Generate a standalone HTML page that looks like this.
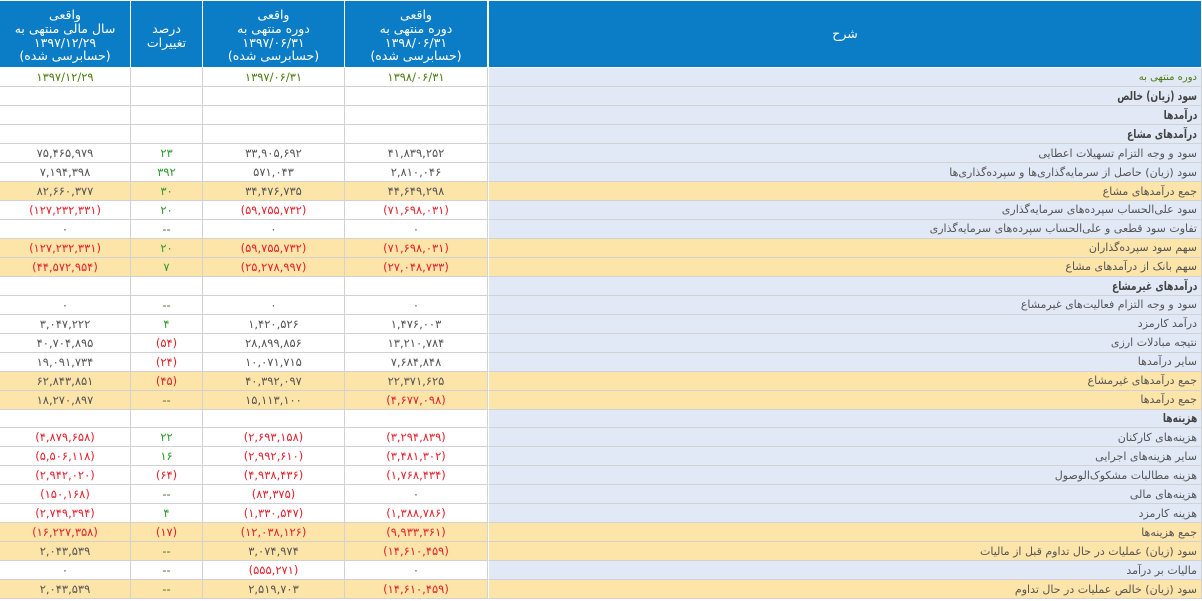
<!DOCTYPE html>
<html lang="fa">
<head>
<meta charset="utf-8">
<style>
html,body{margin:0;padding:0;background:#fff;}
body{width:1202px;height:601px;overflow:hidden;font-family:"DejaVu Sans","Liberation Sans",sans-serif;}
.t{display:grid;grid-template-columns:131px 72px 142px 143px 714px;grid-template-rows:68px 19.3px repeat(27,18.96px);}
.c{box-sizing:border-box;border-right:1px solid #d2d2d2;border-bottom:1px solid #d2d2d2;font-size:11.5px;color:#555;display:flex;align-items:center;justify-content:center;white-space:nowrap;overflow:hidden;background:#fff;}
.s{background:#e2e9f6;justify-content:flex-start;direction:rtl;padding-right:4px;border-left:1px solid #fff;font-size:11px;}
.y{background:#fde4a8;}
.h{background:#0b7dc6;color:#fff;border-right:1px solid #fff;border-bottom:1px solid #fff;border-top:1px solid #fff;text-align:center;font-size:12.5px;line-height:13.7px;direction:rtl;padding-top:3px;}
.h.s{justify-content:center;padding-right:0;background:#0b7dc6;font-size:12.5px;padding-top:0;}
.r{color:#e2222d;}
.g{color:#2f9a2f;}
.d{color:#4b7d12;}
.s.d{font-size:10px;}
.dd{color:#4a6a2a;}
.b span{display:inline-block;font-weight:bold;color:#444;font-size:12px;transform:scaleX(0.76);transform-origin:right center;}
</style>
</head>
<body>
<div class="t">
<!-- header -->
<div class="c h">واقعی<br>سال مالی منتهی به<br>۱۳۹۷/۱۲/۲۹<br>(حسابرسی شده)</div>
<div class="c h">درصد<br>تغییرات</div>
<div class="c h">واقعی<br>دوره منتهی به<br>۱۳۹۷/۰۶/۳۱<br>(حسابرسی شده)</div>
<div class="c h">واقعی<br>دوره منتهی به<br>۱۳۹۸/۰۶/۳۱<br>(حسابرسی شده)</div>
<div class="c h s">شرح</div>

<!-- 1 -->
<div class="c d">۱۳۹۷/۱۲/۲۹</div><div class="c"></div><div class="c d">۱۳۹۷/۰۶/۳۱</div><div class="c d">۱۳۹۸/۰۶/۳۱</div><div class="c s d">دوره منتهی به</div>
<!-- 2 -->
<div class="c"></div><div class="c"></div><div class="c"></div><div class="c"></div><div class="c s b"><span>سود (زیان) خالص</span></div>
<!-- 3 -->
<div class="c"></div><div class="c"></div><div class="c"></div><div class="c"></div><div class="c s b"><span>درآمدها</span></div>
<!-- 4 -->
<div class="c"></div><div class="c"></div><div class="c"></div><div class="c"></div><div class="c s b"><span>درآمدهای مشاع</span></div>
<!-- 5 -->
<div class="c">۷۵,۴۶۵,۹۷۹</div><div class="c g">۲۳</div><div class="c">۳۳,۹۰۵,۶۹۲</div><div class="c">۴۱,۸۳۹,۲۵۲</div><div class="c s">سود و وجه التزام تسهیلات اعطایی</div>
<!-- 6 -->
<div class="c">۷,۱۹۴,۳۹۸</div><div class="c g">۳۹۲</div><div class="c">۵۷۱,۰۴۳</div><div class="c">۲,۸۱۰,۰۴۶</div><div class="c s">سود (زیان) حاصل از سرمایه‌گذاری‌ها و سپرده‌گذاری‌ها</div>
<!-- 7 -->
<div class="c y">۸۲,۶۶۰,۳۷۷</div><div class="c y g">۳۰</div><div class="c y">۳۴,۴۷۶,۷۳۵</div><div class="c y">۴۴,۶۴۹,۲۹۸</div><div class="c s y">جمع درآمدهای مشاع</div>
<!-- 8 -->
<div class="c r">(۱۲۷,۲۳۲,۳۳۱)</div><div class="c g">۲۰</div><div class="c r">(۵۹,۷۵۵,۷۳۲)</div><div class="c r">(۷۱,۶۹۸,۰۳۱)</div><div class="c s">سود علی‌الحساب سپرده‌های سرمایه‌گذاری</div>
<!-- 9 -->
<div class="c">۰</div><div class="c dd">--</div><div class="c">۰</div><div class="c">۰</div><div class="c s">تفاوت سود قطعی و علی‌الحساب سپرده‌های سرمایه‌گذاری</div>
<!-- 10 -->
<div class="c y r">(۱۲۷,۲۳۲,۳۳۱)</div><div class="c y g">۲۰</div><div class="c y r">(۵۹,۷۵۵,۷۳۲)</div><div class="c y r">(۷۱,۶۹۸,۰۳۱)</div><div class="c s y">سهم سود سپرده‌گذاران</div>
<!-- 11 -->
<div class="c y r">(۴۴,۵۷۲,۹۵۴)</div><div class="c y g">۷</div><div class="c y r">(۲۵,۲۷۸,۹۹۷)</div><div class="c y r">(۲۷,۰۴۸,۷۳۳)</div><div class="c s y">سهم بانک از درآمدهای مشاع</div>
<!-- 12 -->
<div class="c"></div><div class="c"></div><div class="c"></div><div class="c"></div><div class="c s b"><span>درآمدهای غیرمشاع</span></div>
<!-- 13 -->
<div class="c">۰</div><div class="c dd">--</div><div class="c">۰</div><div class="c">۰</div><div class="c s">سود و وجه التزام فعالیت‌های غیرمشاع</div>
<!-- 14 -->
<div class="c">۳,۰۴۷,۲۲۲</div><div class="c g">۴</div><div class="c">۱,۴۲۰,۵۲۶</div><div class="c">۱,۴۷۶,۰۰۳</div><div class="c s">درآمد کارمزد</div>
<!-- 15 -->
<div class="c">۴۰,۷۰۴,۸۹۵</div><div class="c r">(۵۴)</div><div class="c">۲۸,۸۹۹,۸۵۶</div><div class="c">۱۳,۲۱۰,۷۸۴</div><div class="c s">نتیجه مبادلات ارزی</div>
<!-- 16 -->
<div class="c">۱۹,۰۹۱,۷۳۴</div><div class="c r">(۲۴)</div><div class="c">۱۰,۰۷۱,۷۱۵</div><div class="c">۷,۶۸۴,۸۴۸</div><div class="c s">سایر درآمدها</div>
<!-- 17 -->
<div class="c y">۶۲,۸۴۳,۸۵۱</div><div class="c y r">(۴۵)</div><div class="c y">۴۰,۳۹۲,۰۹۷</div><div class="c y">۲۲,۳۷۱,۶۲۵</div><div class="c s y">جمع درآمدهای غیرمشاع</div>
<!-- 18 -->
<div class="c y">۱۸,۲۷۰,۸۹۷</div><div class="c y dd">--</div><div class="c y">۱۵,۱۱۳,۱۰۰</div><div class="c y r">(۴,۶۷۷,۰۹۸)</div><div class="c s y">جمع درآمدها</div>
<!-- 19 -->
<div class="c"></div><div class="c"></div><div class="c"></div><div class="c"></div><div class="c s b"><span>هزینه‌ها</span></div>
<!-- 20 -->
<div class="c r">(۴,۸۷۹,۶۵۸)</div><div class="c g">۲۲</div><div class="c r">(۲,۶۹۳,۱۵۸)</div><div class="c r">(۳,۲۹۴,۸۳۹)</div><div class="c s">هزینه‌های کارکنان</div>
<!-- 21 -->
<div class="c r">(۵,۵۰۶,۱۱۸)</div><div class="c g">۱۶</div><div class="c r">(۲,۹۹۲,۶۱۰)</div><div class="c r">(۳,۴۸۱,۳۰۲)</div><div class="c s">سایر هزینه‌های اجرایی</div>
<!-- 22 -->
<div class="c r">(۲,۹۴۲,۰۲۰)</div><div class="c r">(۶۴)</div><div class="c r">(۴,۹۳۸,۴۳۶)</div><div class="c r">(۱,۷۶۸,۴۳۴)</div><div class="c s">هزینه مطالبات مشکوک‌الوصول</div>
<!-- 23 -->
<div class="c r">(۱۵۰,۱۶۸)</div><div class="c dd">--</div><div class="c r">(۸۳,۳۷۵)</div><div class="c">۰</div><div class="c s">هزینه‌های مالی</div>
<!-- 24 -->
<div class="c r">(۲,۷۴۹,۳۹۴)</div><div class="c g">۴</div><div class="c r">(۱,۳۳۰,۵۴۷)</div><div class="c r">(۱,۳۸۸,۷۸۶)</div><div class="c s">هزینه کارمزد</div>
<!-- 25 -->
<div class="c y r">(۱۶,۲۲۷,۳۵۸)</div><div class="c y r">(۱۷)</div><div class="c y r">(۱۲,۰۳۸,۱۲۶)</div><div class="c y r">(۹,۹۳۳,۳۶۱)</div><div class="c s y">جمع هزینه‌ها</div>
<!-- 26 -->
<div class="c y">۲,۰۴۳,۵۳۹</div><div class="c y dd">--</div><div class="c y">۳,۰۷۴,۹۷۴</div><div class="c y r">(۱۴,۶۱۰,۴۵۹)</div><div class="c s y">سود (زیان) عملیات در حال تداوم قبل از مالیات</div>
<!-- 27 -->
<div class="c">۰</div><div class="c dd">--</div><div class="c r">(۵۵۵,۲۷۱)</div><div class="c">۰</div><div class="c s">مالیات بر درآمد</div>
<!-- 28 -->
<div class="c y">۲,۰۴۳,۵۳۹</div><div class="c y dd">--</div><div class="c y">۲,۵۱۹,۷۰۳</div><div class="c y r">(۱۴,۶۱۰,۴۵۹)</div><div class="c s y">سود (زیان) خالص عملیات در حال تداوم</div>
</div>
</body>
</html>
